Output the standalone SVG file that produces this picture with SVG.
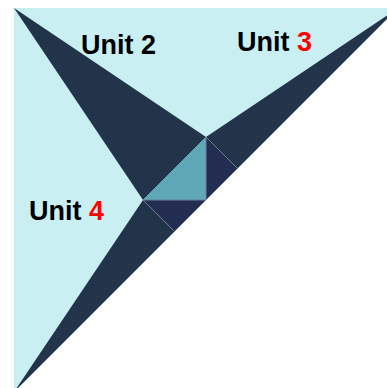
<svg xmlns="http://www.w3.org/2000/svg" width="387" height="388" viewBox="0 0 387 388">
<style>
.wing{fill:#22344a}
.navy{fill:#232d52}
.teal{fill:#5ea8b7}
.sep{stroke:#6f7e96;stroke-width:1;fill:none}
.lbl{font-family:"Liberation Sans",Arial,sans-serif;font-weight:bold;font-size:27px;fill:#000}
.red{fill:#ff0000}
</style>
<rect width="387" height="388" fill="#ffffff"/>
<g id="background">
<polygon points="14,8 398,8 14,392" fill="#c9eff2"/>
</g>
<g id="unit2">
<polygon class="wing" points="14,8 206,137 143,200"/>
</g>
<g id="unit3">
<polygon class="wing" points="206,137 398,8 237.5,168.5"/>
</g>
<g id="unit4">
<polygon class="wing" points="143,200 14,392 174.5,231.5"/>
</g>
<g id="center">
<polygon class="teal" points="206,137 206,200 143,200"/>
<polygon class="navy" points="206,137 237.5,168.5 206,200"/>
<polygon class="navy" points="143,200 206,200 174.5,231.5"/>
</g>
<g id="connectors">
<line class="sep" x1="206" y1="137" x2="237.5" y2="168.5"/>
<line class="sep" x1="143" y1="200" x2="174.5" y2="231.5"/>
<line class="sep" x1="206" y1="137" x2="206" y2="200"/>
<line class="sep" x1="143" y1="200" x2="206" y2="200"/>
</g>
<g id="labels">
<text class="lbl" x="81" y="54">Unit 2</text>
<text class="lbl" x="237" y="51">Unit <tspan class="red">3</tspan></text>
<text class="lbl" x="29" y="220">Unit <tspan class="red">4</tspan></text>
</g>
</svg>
